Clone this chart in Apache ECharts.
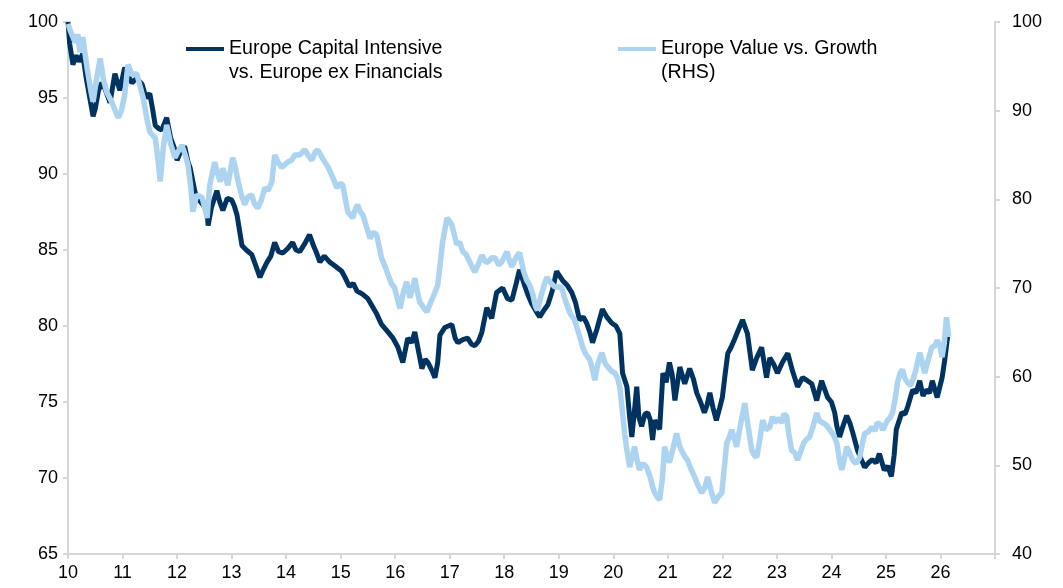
<!DOCTYPE html>
<html style="height: 100%">
<head>
<meta charset="utf-8">
<script src="https://cdn.jsdelivr.net/npm/echarts@6/dist/echarts.min.js"></script>
</head>
<body style="height: 100%; margin: 0; background: #fff">
<div id="container" style="width: 1063px; height: 588px"></div>
<script type="text/javascript">
// year (20yy as yy.fraction), value
var capIntensive = [
  [10.00,100.0],[10.03,98.6],[10.09,97.2],[10.15,97.8],[10.20,97.4],[10.27,97.9],[10.33,96.4],[10.40,95.0],
  [10.46,93.8],[10.50,94.3],[10.56,95.5],[10.62,96.0],[10.68,95.6],[10.77,94.7],[10.86,96.6],[10.95,95.5],
  [11.04,97.0],[11.10,96.5],[11.17,96.0],[11.26,96.3],[11.36,95.9],[11.43,95.0],[11.50,95.3],[11.55,94.3],
  [11.60,93.2],[11.66,93.0],[11.72,92.9],[11.81,93.7],[11.88,92.4],[11.95,91.7],[12.00,90.9],[12.09,91.7],
  [12.14,91.8],[12.20,90.8],[12.24,90.4],[12.33,88.8],[12.40,88.3],[12.47,88.0],[12.55,87.6],[12.57,86.6],
  [12.63,87.8],[12.73,88.9],[12.78,88.2],[12.84,87.6],[12.92,88.4],[13.00,88.3],[13.05,87.9],[13.10,87.3],
  [13.19,85.3],[13.27,85.0],[13.37,84.7],[13.44,84.0],[13.52,83.2],[13.58,83.7],[13.65,84.2],[13.72,84.6],
  [13.79,85.5],[13.86,84.9],[13.94,84.8],[14.03,85.1],[14.12,85.5],[14.18,85.0],[14.25,84.9],[14.34,85.4],
  [14.43,86.0],[14.50,85.3],[14.56,84.8],[14.62,84.2],[14.70,84.6],[14.80,84.2],[14.88,84.0],[14.95,83.8],
  [15.02,83.6],[15.08,83.2],[15.16,82.6],[15.23,82.8],[15.30,82.3],[15.40,82.1],[15.50,81.8],[15.58,81.3],
  [15.66,80.8],[15.75,80.1],[15.87,79.6],[15.96,79.2],[16.05,78.6],[16.14,77.6],[16.23,79.2],[16.30,78.9],
  [16.36,79.6],[16.43,78.3],[16.49,77.2],[16.55,77.8],[16.60,77.6],[16.67,77.1],[16.73,76.6],[16.78,77.6],
  [16.82,79.4],[16.91,79.9],[17.04,80.1],[17.10,79.2],[17.15,78.9],[17.24,79.1],[17.33,79.2],[17.40,78.8],
  [17.46,78.7],[17.53,79.0],[17.59,79.6],[17.68,81.2],[17.77,80.5],[17.86,82.2],[17.97,82.5],[18.06,81.8],
  [18.14,81.7],[18.22,82.8],[18.28,83.7],[18.38,82.6],[18.44,82.0],[18.50,81.5],[18.58,81.0],[18.65,80.6],
  [18.72,81.0],[18.80,81.4],[18.88,82.3],[18.96,83.6],[19.07,83.0],[19.15,82.7],[19.24,82.2],[19.31,81.5],
  [19.38,80.4],[19.45,80.6],[19.51,80.2],[19.57,79.6],[19.62,78.9],[19.70,79.8],[19.80,81.1],[19.88,80.6],
  [19.97,80.2],[20.05,80.0],[20.12,79.5],[20.17,76.9],[20.25,76.0],[20.30,74.0],[20.34,72.7],[20.39,74.5],
  [20.43,76.0],[20.47,74.0],[20.52,73.4],[20.58,74.2],[20.63,74.3],[20.68,73.8],[20.72,72.5],[20.76,73.8],
  [20.81,73.5],[20.85,73.2],[20.91,76.9],[20.97,76.3],[21.03,77.6],[21.08,76.8],[21.13,75.1],[21.22,77.3],
  [21.31,76.2],[21.40,77.2],[21.47,76.5],[21.53,75.6],[21.60,75.0],[21.67,74.3],[21.72,74.8],[21.77,75.6],
  [21.83,74.6],[21.89,73.8],[21.95,74.6],[22.00,75.3],[22.05,76.8],[22.10,78.2],[22.16,78.6],[22.22,79.1],
  [22.30,79.8],[22.37,80.4],[22.46,79.5],[22.55,77.1],[22.63,77.9],[22.72,78.6],[22.81,76.6],[22.87,77.9],
  [22.94,77.5],[23.01,76.9],[23.10,77.6],[23.20,78.2],[23.29,77.0],[23.38,76.0],[23.47,76.6],[23.56,76.4],
  [23.64,76.2],[23.73,75.1],[23.82,76.4],[23.93,75.3],[24.00,75.0],[24.06,74.3],[24.10,73.4],[24.15,72.7],
  [24.22,73.5],[24.28,74.1],[24.34,73.6],[24.39,73.0],[24.48,71.8],[24.55,71.2],[24.61,70.7],[24.68,71.0],
  [24.75,71.2],[24.82,71.0],[24.88,71.6],[24.97,70.5],[25.03,70.8],[25.10,70.1],[25.15,71.5],[25.19,73.2],
  [25.29,74.3],[25.35,74.2],[25.40,74.7],[25.49,75.8],[25.55,75.6],[25.62,76.4],[25.68,75.4],[25.74,75.8],
  [25.80,75.6],[25.85,76.4],[25.94,75.3],[26.03,76.6],[26.08,77.8],[26.13,79.3]
];

var valueGrowth = [
  [10.00,99.8],[10.05,98.9],[10.13,97.7],[10.18,98.6],[10.22,96.6],[10.27,98.3],[10.35,94.8],[10.42,92.2],
  [10.46,91.0],[10.53,93.8],[10.59,95.9],[10.65,93.5],[10.71,92.1],[10.80,91.0],[10.92,89.2],[10.98,90.0],
  [11.04,91.8],[11.10,95.2],[11.18,94.0],[11.26,94.2],[11.32,92.8],[11.38,91.4],[11.45,89.0],[11.50,87.6],
  [11.60,86.9],[11.65,84.5],[11.69,82.0],[11.75,86.0],[11.81,88.4],[11.88,86.3],[11.96,84.7],[12.03,85.5],
  [12.09,86.1],[12.15,85.0],[12.20,83.9],[12.25,81.5],[12.29,78.6],[12.36,80.5],[12.46,80.2],[12.51,79.0],
  [12.55,77.9],[12.60,81.6],[12.69,84.2],[12.74,83.0],[12.79,82.0],[12.84,83.5],[12.93,81.6],[13.02,84.7],
  [13.07,83.6],[13.12,82.0],[13.18,80.5],[13.24,79.4],[13.30,80.3],[13.37,80.5],[13.42,79.5],[13.48,79.0],
  [13.55,80.0],[13.61,81.3],[13.67,81.0],[13.74,82.0],[13.79,85.0],[13.85,84.2],[13.92,83.6],[14.03,84.2],
  [14.10,84.4],[14.16,85.0],[14.25,85.0],[14.34,85.6],[14.40,85.0],[14.47,84.4],[14.53,85.3],[14.58,85.6],
  [14.65,84.8],[14.71,84.2],[14.78,83.5],[14.86,82.4],[14.93,81.3],[15.00,81.8],[15.04,81.6],[15.13,78.6],
  [15.22,77.9],[15.26,78.7],[15.31,79.4],[15.36,78.6],[15.41,78.2],[15.48,76.8],[15.54,75.6],[15.60,76.3],
  [15.66,76.0],[15.75,73.4],[15.81,72.5],[15.87,71.5],[15.93,70.5],[15.99,70.0],[16.04,68.8],[16.09,67.7],
  [16.15,69.5],[16.21,70.7],[16.27,68.9],[16.32,70.0],[16.36,71.1],[16.41,69.5],[16.45,68.4],[16.52,67.8],
  [16.58,67.3],[16.64,68.2],[16.69,68.9],[16.78,70.3],[16.83,73.0],[16.87,75.2],[16.95,77.9],[17.00,77.5],
  [17.04,77.1],[17.13,74.9],[17.18,75.2],[17.24,74.1],[17.30,73.8],[17.37,72.9],[17.46,71.8],[17.52,72.6],
  [17.59,73.7],[17.65,73.0],[17.70,72.9],[17.77,73.4],[17.83,73.4],[17.90,72.6],[17.95,72.9],[18.05,74.1],
  [18.10,73.0],[18.14,72.4],[18.21,73.4],[18.28,74.0],[18.35,72.0],[18.41,70.9],[18.47,70.3],[18.52,69.4],
  [18.57,68.0],[18.61,67.5],[18.68,69.2],[18.74,70.5],[18.78,71.2],[18.85,70.6],[18.93,70.1],[19.05,70.1],
  [19.10,69.0],[19.16,67.9],[19.22,67.0],[19.29,66.4],[19.36,65.0],[19.44,63.3],[19.50,62.5],[19.57,61.9],
  [19.62,60.8],[19.66,59.6],[19.72,61.5],[19.79,62.7],[19.85,61.5],[19.90,61.1],[19.97,60.6],[20.03,60.4],
  [20.08,59.8],[20.12,58.8],[20.17,55.9],[20.21,53.5],[20.25,51.7],[20.30,49.8],[20.35,51.0],[20.39,52.1],
  [20.44,50.5],[20.48,49.5],[20.55,50.2],[20.61,49.8],[20.67,48.8],[20.72,47.6],[20.76,46.9],[20.81,46.4],
  [20.85,46.1],[20.90,48.5],[20.94,52.1],[20.99,51.0],[21.03,50.3],[21.10,52.0],[21.16,53.6],[21.21,52.3],
  [21.25,51.7],[21.31,51.0],[21.36,50.6],[21.43,49.5],[21.49,48.7],[21.55,47.8],[21.62,46.9],[21.68,47.5],
  [21.73,48.7],[21.80,47.0],[21.86,45.8],[21.93,46.5],[21.99,46.9],[22.04,50.0],[22.08,52.5],[22.13,53.2],
  [22.17,54.0],[22.22,53.0],[22.26,52.1],[22.33,54.5],[22.41,57.0],[22.47,54.5],[22.54,51.7],[22.58,51.2],
  [22.63,50.9],[22.69,53.0],[22.74,55.1],[22.80,54.0],[22.87,54.3],[22.92,55.5],[22.96,54.8],[23.02,55.3],
  [23.09,54.8],[23.13,55.8],[23.18,55.5],[23.22,53.5],[23.27,51.7],[23.33,51.4],[23.38,50.6],[23.44,51.6],
  [23.49,52.5],[23.54,52.9],[23.60,53.2],[23.66,54.3],[23.73,55.9],[23.78,55.0],[23.84,54.8],[23.90,54.6],
  [23.97,54.0],[24.04,53.4],[24.10,52.5],[24.15,50.5],[24.19,49.5],[24.24,50.8],[24.28,52.1],[24.33,51.5],
  [24.39,50.6],[24.45,50.2],[24.52,50.9],[24.57,52.5],[24.61,53.6],[24.68,53.8],[24.74,54.3],[24.80,53.9],
  [24.84,54.8],[24.90,54.6],[24.94,54.0],[25.03,55.1],[25.08,55.4],[25.12,55.9],[25.17,57.5],[25.21,59.3],
  [25.26,60.4],[25.30,60.8],[25.35,59.8],[25.40,59.3],[25.45,59.0],[25.49,59.6],[25.55,60.8],[25.62,62.7],
  [25.67,61.5],[25.71,60.4],[25.78,62.0],[25.84,63.3],[25.90,63.5],[25.94,64.1],[25.99,63.5],[26.03,62.2],
  [26.07,63.8],[26.11,66.7],[26.15,64.5]
];

var NAME_CAP = 'Europe Capital Intensive\nvs. Europe ex Financials';
var NAME_VAL = 'Europe Value vs. Growth\n(RHS)';

var FONT = "'Liberation Sans', Arial, sans-serif";
var AXIS_GREY = '#d6d6d6';

var chart = echarts.init(document.getElementById('container'));

function legendAt(name, left) {
    return {
        data: [name],
        left: left,
        top: 13,
        padding: 0,
        icon: 'rect',
        itemWidth: 38,
        itemHeight: 4,
        selectedMode: false,
        // empty first line so the icon lines up with the first text line
        formatter: function (n) { return '\n' + n; },
        textStyle: { fontFamily: FONT, fontSize: 19.6, lineHeight: 24, color: '#000' }
    };
}

var axisLabelStyle = { fontFamily: FONT, fontSize: 18, color: '#000' };

var option = {
    animation: false,
    backgroundColor: '#fff',
    grid: { left: 68, right: 68, top: 22, bottom: 34 },
    legend: [legendAt(NAME_CAP, 186), legendAt(NAME_VAL, 618)],
    xAxis: {
        type: 'value',
        min: 10,
        max: 27,
        interval: 1,
        axisLine: { show: true, lineStyle: { color: AXIS_GREY, width: 2 } },
        axisTick: { show: true, length: 5, lineStyle: { color: AXIS_GREY, width: 2 } },
        splitLine: { show: false },
        axisLabel: Object.assign({
            margin: 10,
            formatter: function (v) { return v === 27 ? '' : String(v); }
        }, axisLabelStyle)
    },
    yAxis: [
        {
            type: 'value',
            min: 65,
            max: 100,
            interval: 5,
            position: 'left',
            axisLine: { show: true, lineStyle: { color: AXIS_GREY, width: 2 } },
            axisTick: { show: true, length: 5, lineStyle: { color: AXIS_GREY, width: 2 } },
            splitLine: { show: false },
            axisLabel: Object.assign({ margin: 10 }, axisLabelStyle)
        },
        {
            type: 'value',
            min: 40,
            max: 100,
            interval: 10,
            position: 'right',
            axisLine: { show: true, lineStyle: { color: AXIS_GREY, width: 2 } },
            axisTick: { show: true, length: 5, lineStyle: { color: AXIS_GREY, width: 2 } },
            splitLine: { show: false },
            axisLabel: Object.assign({ margin: 17 }, axisLabelStyle)
        }
    ],
    series: [
        {
            name: NAME_CAP,
            type: 'line',
            yAxisIndex: 0,
            showSymbol: false,
            color: '#00335f',
            lineStyle: { width: 5, color: '#00335f' },
            data: capIntensive
        },
        {
            name: NAME_VAL,
            type: 'line',
            yAxisIndex: 1,
            showSymbol: false,
            color: '#acd3f0',
            lineStyle: { width: 5.5, color: '#acd3f0' },
            data: valueGrowth
        }
    ]
};

chart.setOption(option);
</script>
</body>
</html>
